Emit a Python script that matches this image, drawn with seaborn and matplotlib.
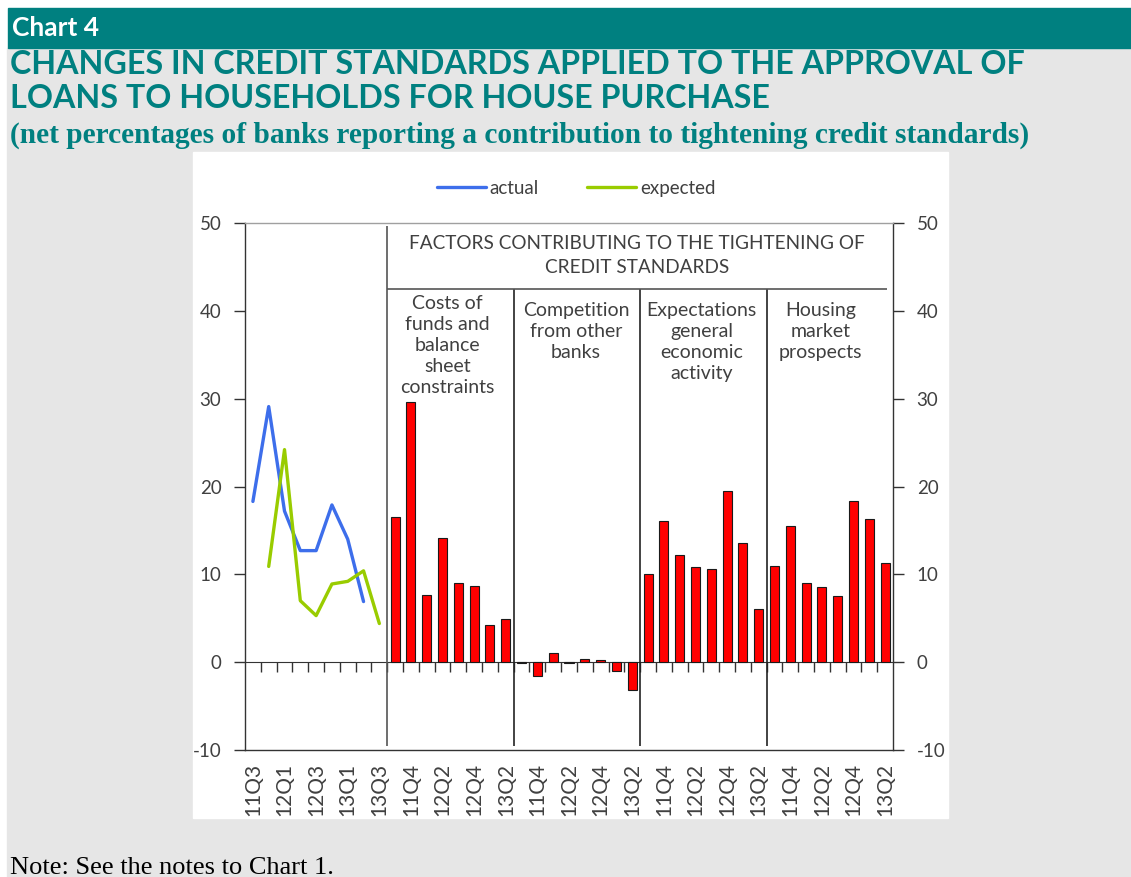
import numpy as np
import pandas as pd
import seaborn as sns
import matplotlib.pyplot as plt
from matplotlib.patches import Rectangle

# quarters of the left part (lines) and of each factor block (bars)
line_quarters = ['11Q3', '11Q4', '12Q1', '12Q2', '12Q3', '12Q4', '13Q1', '13Q2', '13Q3']
actual = [18.3, 29.1, 17.2, 12.7, 12.7, 17.9, 14.0, 6.9, None]
expected = [None, 10.9, 24.2, 7.0, 5.3, 8.9, 9.2, 10.4, 4.4]

bar_quarters = ['11Q3', '11Q4', '12Q1', '12Q2', '12Q3', '12Q4', '13Q1', '13Q2']
factors = ['Costs of\nfunds and\nbalance\nsheet\nconstraints',
           'Competition\nfrom other\nbanks',
           'Expectations\ngeneral\neconomic\nactivity',
           'Housing\nmarket\nprospects']
costs = [16.5, 29.6, 7.6, 14.1, 9.0, 8.7, 4.2, 4.9]
competition = [-0.15, -1.6, 1.0, -0.15, 0.35, 0.3, -0.95, -3.15]
expectations = [10.0, 16.1, 12.2, 10.8, 10.6, 19.5, 13.6, 6.1]
housing = [11.0, 15.5, 9.0, 8.6, 7.5, 18.3, 16.3, 11.3]

teal = '#008080'
W, H = 1131, 877

# long tables
rows = []
for i, q in enumerate(line_quarters):
    for name, vals in [('actual', actual), ('expected', expected)]:
        if vals[i] is not None:
            rows.append({'pos': i, 'quarter': q, 'series': name, 'value': vals[i]})
lines = pd.DataFrame(rows)

rows = []
pos = len(line_quarters)
for f, vals in zip(factors, [costs, competition, expectations, housing]):
    for q, v in zip(bar_quarters, vals):
        rows.append({'pos': pos, 'quarter': q, 'factor': f, 'value': v})
        pos += 1
bars = pd.DataFrame(rows)

all_q = line_quarters + bar_quarters * len(factors)
n_left = len(line_quarters)
n_grp = len(bar_quarters)
ticks = [p for p in range(len(all_q))
         if (p < n_left and p % 2 == 0) or (p >= n_left and (p - n_left) % 2 == 1)]

sns.set_style('white')
plt.rcParams['font.family'] = ['Lato', 'DejaVu Sans']
plt.rcParams['axes.unicode_minus'] = False
txt = '#404040'

fig = plt.figure(figsize=(W / 100, H / 100), dpi=100)
fig.patch.set_facecolor('white')

def fx(x):
    return x / W

def fy(y):
    return 1 - y / H

# page decorations
fig.patches.append(Rectangle((fx(7), 0), 1, fy(48), transform=fig.transFigure,
                             color='#E6E6E6', zorder=-10))
fig.patches.append(Rectangle((fx(8), fy(48)), 1, 40 / H, transform=fig.transFigure,
                             color=teal, zorder=-10))
fig.patches.append(Rectangle((fx(193), fy(818)), (948 - 193) / W, (818 - 152) / H,
                             transform=fig.transFigure, color='white', zorder=-10))

fig.text(fx(12), fy(36), 'Chart 4', color='white', fontsize=19, fontweight='bold')
fig.text(fx(10), fy(74), 'CHANGES IN CREDIT STANDARDS APPLIED TO THE APPROVAL OF',
         color=teal, fontsize=23.2, fontweight='bold')
fig.text(fx(10), fy(108), 'LOANS TO HOUSEHOLDS FOR HOUSE PURCHASE',
         color=teal, fontsize=23.2, fontweight='bold')
fig.text(fx(10), fy(143),
         '(net percentages of banks reporting a contribution to tightening credit standards)',
         color=teal, fontsize=21.2, fontweight='bold', family='Liberation Serif')
fig.text(fx(10), fy(874), 'Note: See the notes to Chart 1.', color='black', fontsize=19,
         family='Liberation Serif')

ax = fig.add_axes([fx(245), fy(750), 648 / W, 527 / H])
ax.set_facecolor('white')

sns.barplot(data=bars, x='pos', y='value', native_scale=True, width=0.57,
            color='#FF0000', saturation=1, edgecolor='#1a1a1a', linewidth=0.8,
            errorbar=None, ax=ax)
sns.lineplot(data=lines, x='pos', y='value', hue='series',
             palette={'actual': '#3D6EEB', 'expected': '#99CC00'},
             linewidth=2.4, ax=ax)

ax.set_xlim(-0.5, len(all_q) - 0.5)
ax.set_ylim(-10, 50)
ax.set_xlabel('')
ax.set_ylabel('')

ax.set_yticks(range(-10, 51, 10))
ax.tick_params(axis='y', left=True, right=True, labelleft=True, labelright=True,
               direction='out', length=8, width=1, pad=9, labelsize=13.5,
               labelcolor=txt, color='#333333')
ax.set_xticks(ticks, labels=[all_q[p] for p in ticks], rotation=90)
ax.tick_params(axis='x', length=0, pad=9, labelsize=15, labelcolor=txt)

for s in ['left', 'right', 'bottom']:
    ax.spines[s].set_color('#333333')
    ax.spines[s].set_linewidth(1)
ax.spines['top'].set_color('#A0A0A0')
ax.spines['top'].set_linewidth(1)

# zero line with category ticks
sec = ax.secondary_xaxis(10 / 60)
sec.set_xticks(np.arange(0.5, len(all_q) - 1, 1))
sec.tick_params(length=7, direction='out', labelbottom=False, color='#333333', width=1)
sec.spines['bottom'].set_color('#333333')

# block dividers
first = n_left - 0.5
ax.vlines(first, -9.6, 49.7, color='#555555', lw=1.2)
ax.vlines([first + k * n_grp for k in range(1, len(factors))], -9.6, 42.5,
          color='#222222', lw=1.2)
ax.hlines(42.5, first, len(all_q) - 0.85, color='#555555', lw=1.2)

ax.text(24.3, 46.3, 'FACTORS CONTRIBUTING TO THE TIGHTENING OF\nCREDIT STANDARDS',
        ha='center', va='center', fontsize=13.7, color=txt, linespacing=1.56)
label_x = [12.3, 20.45, 28.4, 35.9]
label_y = [41.8, 41.0, 41.0, 41.0]
for f, x, y in zip(factors, label_x, label_y):
    ax.text(x, y, f, ha='center', va='top', fontsize=14, color=txt, linespacing=1.29)

sns.move_legend(ax, 'center', bbox_to_anchor=(0.511, 1.066), ncol=2, frameon=False,
                title=None, fontsize=13.5, handlelength=2.6, handletextpad=0.2,
                columnspacing=2.6)
for t in ax.get_legend().get_texts():
    t.set_color(txt)

fig.savefig('out.png', dpi=100)
